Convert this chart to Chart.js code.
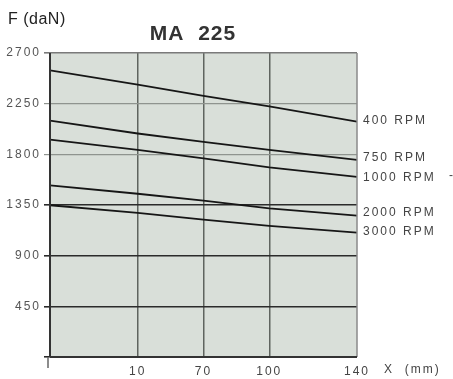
<!DOCTYPE html>
<html><head><meta charset="utf-8">
<script src="https://cdn.jsdelivr.net/npm/chart.js@4"></script>
<style>html,body{margin:0;padding:0;background:#fff}#wrap{width:453px;height:379px}</style>
</head><body><div id="wrap"><canvas id="c" width="453" height="379"></canvas></div>
<script>
const xPositions = [0, 40, 70, 100, 140];
const xTickLabels = {0: "", 40: "10", 70: "70", 100: "100", 140: "140"};
const yTicks = [0, 450, 900, 1350, 1800, 2250, 2700];
const rpm400 = [2545, 2420, 2320, 2225, 2090];
const rpm750 = [2100, 1985, 1910, 1840, 1750];
const rpm1000 = [1930, 1840, 1765, 1685, 1600];
const rpm2000 = [1525, 1450, 1388, 1320, 1255];
const rpm3000 = [1348, 1280, 1220, 1165, 1105];
const seriesLabels = ["400 RPM", "750 RPM", "1000 RPM", "2000 RPM", "3000 RPM"];
const seriesValues = [rpm400, rpm750, rpm1000, rpm2000, rpm3000];

const FONT = "'Liberation Sans', Arial, sans-serif";

const bgPlugin = {
  id: 'bg',
  beforeDraw(chart) {
    const {ctx, chartArea: a} = chart;
    ctx.letterSpacing = '2px';
    ctx.save();
    ctx.fillStyle = '#d9dfd9';
    ctx.fillRect(a.left, a.top, a.right - a.left, a.bottom - a.top);
    ctx.restore();
  },
  afterDraw(chart) {
    const {ctx, chartArea: a, scales} = chart;
    ctx.save();
    // borders
    ctx.strokeStyle = '#8a8a8a'; ctx.lineWidth = 1.5;
    ctx.beginPath(); ctx.moveTo(a.right, a.top); ctx.lineTo(a.right, a.bottom); ctx.stroke();
    ctx.strokeStyle = '#333'; ctx.lineWidth = 2;
    ctx.beginPath(); ctx.moveTo(a.left, a.bottom); ctx.lineTo(a.right, a.bottom); ctx.stroke();
    ctx.beginPath(); ctx.moveTo(a.left, a.top); ctx.lineTo(a.left, a.bottom); ctx.stroke();
    ctx.strokeStyle = '#666'; ctx.lineWidth = 1.5;
    ctx.beginPath(); ctx.moveTo(a.left - 2, a.bottom); ctx.lineTo(a.left - 2, a.bottom + 11); ctx.stroke();
    // texts
    ctx.letterSpacing = '0.5px';
    ctx.fillStyle = '#222';
    ctx.font = '16px ' + FONT;
    ctx.textBaseline = 'middle'; ctx.textAlign = 'left';
    ctx.fillText('F (daN)', 8, 20);
    ctx.letterSpacing = '1px';
    ctx.font = 'bold 21px ' + FONT;
    ctx.fillStyle = '#333';
    ctx.textAlign = 'center';
    ctx.fillText('MA  225', 193, 34);
    ctx.letterSpacing = '2px';
    ctx.font = '12px ' + FONT;
    ctx.fillStyle = '#444';
    ctx.textAlign = 'left';
    ctx.fillText('X  (mm)', 384, 370);
    const offs = [-1, -2, 1, -3, -1];
    seriesValues.forEach((vals, i) => {
      const y = scales.y.getPixelForValue(vals[vals.length - 1]);
      ctx.fillText(seriesLabels[i], a.right + 6, y + offs[i]);
    });
    ctx.fillText('-', 449, 176);
    ctx.restore();
  }
};

const gridColor = (v) => {
  if (v === 2250 || v === 1800) return '#8f948f';
  if (v === 2700) return '#7a7a7a';
  return '#2b2b2b';
};

new Chart(document.getElementById('c'), {
  type: 'line',
  data: {
    datasets: seriesValues.map((vals, i) => ({
      label: seriesLabels[i],
      data: vals.map((v, j) => ({x: xPositions[j], y: v})),
      borderColor: '#161616',
      borderWidth: 1.8,
      pointRadius: 0,
      tension: 0,
      fill: false
    }))
  },
  options: {
    responsive: false,
    animation: false,
    layout: {padding: {top: 53, right: 96, left: 0, bottom: 0}},
    plugins: {legend: {display: false}, tooltip: {enabled: false}},
    scales: {
      x: {
        type: 'linear', min: 0, max: 140,
        afterBuildTicks(s) { s.ticks = xPositions.map(v => ({value: v})); },
        afterFit(s) { s.height = 22; },
        border: {display: false},
        grid: {
          drawTicks: false,
          color: (c) => (c.tick && (c.tick.value === 0 || c.tick.value === 140)) ? 'rgba(0,0,0,0)' : '#5f645f',
          lineWidth: 1.5
        },
        ticks: {
          padding: 7,
          color: '#444',
          font: {family: FONT, size: 12},
          maxRotation: 0,
          callback: (v) => xTickLabels[v]
        }
      },
      y: {
        min: 0, max: 2700,
        afterBuildTicks(s) { s.ticks = yTicks.map(v => ({value: v})); },
        afterFit(s) { s.width = 50; },
        border: {display: false},
        grid: {
          tickLength: 6,
          color: (c) => c.tick ? gridColor(c.tick.value) : '#333',
          lineWidth: (c) => (c.tick && (c.tick.value === 2250 || c.tick.value === 1800)) ? 1.2 : 1.6
        },
        ticks: {
          padding: 3,
          color: '#555',
          font: {family: FONT, size: 12},
          callback: (v) => v === 0 ? '' : String(v)
        }
      }
    }
  },
  plugins: [bgPlugin]
});
</script></body></html>
